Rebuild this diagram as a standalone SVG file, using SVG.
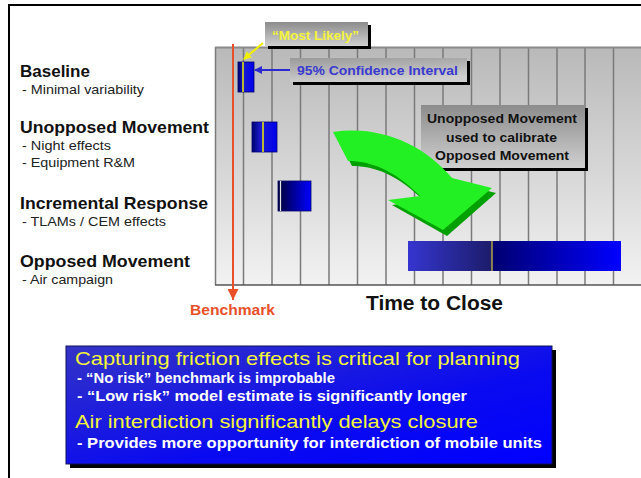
<svg xmlns="http://www.w3.org/2000/svg" width="641" height="478" viewBox="0 0 641 478">
  <defs>
    <linearGradient id="chartBg" x1="0" y1="0" x2="0" y2="1">
      <stop offset="0" stop-color="#b9b9b9"/>
      <stop offset="1" stop-color="#f2f2f2"/>
    </linearGradient>
    <linearGradient id="calloutBg" x1="0" y1="0" x2="0" y2="1">
      <stop offset="0" stop-color="#8c8c8c"/>
      <stop offset="1" stop-color="#d0d0d0"/>
    </linearGradient>
    <linearGradient id="noteBg" x1="0" y1="0" x2="0.3" y2="1">
      <stop offset="0" stop-color="#9a9a9a"/>
      <stop offset="1" stop-color="#cfcfcf"/>
    </linearGradient>
    <linearGradient id="boxBlue" x1="0" y1="0" x2="1" y2="1">
      <stop offset="0" stop-color="#3434c6"/>
      <stop offset="0.6" stop-color="#0a0af0"/>
      <stop offset="1" stop-color="#0000ff"/>
    </linearGradient>
    <linearGradient id="barSmall" x1="0" y1="0" x2="1" y2="0">
      <stop offset="0" stop-color="#000070"/>
      <stop offset="0.35" stop-color="#1a1ad0"/>
      <stop offset="1" stop-color="#0000ee"/>
    </linearGradient>
    <linearGradient id="barInc" x1="0" y1="0" x2="1" y2="0">
      <stop offset="0" stop-color="#00003a"/>
      <stop offset="1" stop-color="#0000ff"/>
    </linearGradient>
    <linearGradient id="barOppL" x1="0" y1="0" x2="1" y2="0">
      <stop offset="0" stop-color="#3535d0"/>
      <stop offset="1" stop-color="#1c1c6a"/>
    </linearGradient>
    <linearGradient id="barOppR" x1="0" y1="0" x2="1" y2="0">
      <stop offset="0" stop-color="#000070"/>
      <stop offset="1" stop-color="#0000ff"/>
    </linearGradient>
    <marker id="headBlue" markerWidth="8" markerHeight="8" refX="7" refY="4" orient="auto" markerUnits="userSpaceOnUse">
      <path d="M0,0 L8,4 L0,8 Z" fill="#2a2ad0"/>
    </marker>
    <marker id="headYellow" markerWidth="8" markerHeight="8" refX="7" refY="4" orient="auto" markerUnits="userSpaceOnUse">
      <path d="M0,0 L8,4 L0,8 Z" fill="#f0f000"/>
    </marker>
    <marker id="headRed" markerWidth="12" markerHeight="11" refX="11" refY="5.5" orient="auto" markerUnits="userSpaceOnUse">
      <path d="M0,0 L11,5.5 L0,11 Z" fill="#e8502a"/>
    </marker>
  </defs>
  <style>
    text { font-family: "Liberation Sans", Arial, sans-serif; }
    .head { font-size: 17px; font-weight: bold; fill: #111; }
    .sub { font-size: 13px; fill: #222; }
    .grid { stroke: #7a7a7a; stroke-width: 1.5; }
    .shadow { fill: #000; }
    .note { font-size: 13.5px; font-weight: bold; fill: #111; }
    .yl { fill: #f4f43a; font-size: 18.5px; }
    .wt { fill: #fff; font-size: 14.5px; font-weight: bold; }
  </style>

  <!-- page frame -->
  <path d="M9,478 V5 H641" fill="none" stroke="#000" stroke-width="2"/>

  <!-- chart area -->
  <g id="chart">
    <rect x="215" y="47" width="426" height="238" fill="url(#chartBg)"/>
    <g class="grid">
      <line x1="215.5" y1="47" x2="215.5" y2="285"/>
      <line x1="243.5" y1="47" x2="243.5" y2="285"/>
      <line x1="272" y1="47" x2="272" y2="285"/>
      <line x1="300.5" y1="47" x2="300.5" y2="285"/>
      <line x1="329" y1="47" x2="329" y2="285"/>
      <line x1="357.5" y1="47" x2="357.5" y2="285"/>
      <line x1="386" y1="47" x2="386" y2="285"/>
      <line x1="414.5" y1="47" x2="414.5" y2="285"/>
      <line x1="443" y1="47" x2="443" y2="285"/>
      <line x1="471.5" y1="47" x2="471.5" y2="285"/>
      <line x1="500" y1="47" x2="500" y2="285"/>
      <line x1="528.5" y1="47" x2="528.5" y2="285"/>
      <line x1="557" y1="47" x2="557" y2="285"/>
      <line x1="585" y1="47" x2="585" y2="285"/>
      <line x1="613.5" y1="47" x2="613.5" y2="285"/>
    </g>
    <line x1="215" y1="47.5" x2="641" y2="47.5" stroke="#8a8a8a" stroke-width="2"/>
    <line x1="215" y1="285" x2="641" y2="285" stroke="#555" stroke-width="1.5"/>
    <text x="366" y="310" font-size="20" font-weight="bold" fill="#111" textLength="137" lengthAdjust="spacingAndGlyphs">Time to Close</text>
  </g>

  <!-- row labels -->
  <g id="label-baseline">
    <text class="head" x="20" y="77">Baseline</text>
    <text class="sub" x="22" y="94" textLength="122" lengthAdjust="spacingAndGlyphs">- Minimal variability</text>
  </g>
  <g id="label-unopposed">
    <text class="head" x="20" y="133" textLength="189" lengthAdjust="spacingAndGlyphs">Unopposed Movement</text>
    <text class="sub" x="22" y="150" textLength="89" lengthAdjust="spacingAndGlyphs">- Night effects</text>
    <text class="sub" x="22" y="167" textLength="113" lengthAdjust="spacingAndGlyphs">- Equipment R&amp;M</text>
  </g>
  <g id="label-incremental">
    <text class="head" x="20" y="209" textLength="188" lengthAdjust="spacingAndGlyphs">Incremental Response</text>
    <text class="sub" x="22" y="226" textLength="144" lengthAdjust="spacingAndGlyphs">- TLAMs / CEM effects</text>
  </g>
  <g id="label-opposed">
    <text class="head" x="20" y="267" textLength="170" lengthAdjust="spacingAndGlyphs">Opposed Movement</text>
    <text class="sub" x="22" y="284" textLength="91" lengthAdjust="spacingAndGlyphs">- Air campaign</text>
  </g>

  <!-- bars -->
  <g id="bar-baseline">
    <rect x="238" y="62" width="16" height="30" fill="url(#barSmall)" stroke="#00006a" stroke-width="0.8"/>
    <line x1="243" y1="62" x2="243" y2="92" stroke="#f0f000" stroke-width="1.5"/>
  </g>
  <g id="bar-unopposed">
    <rect x="252" y="122" width="25" height="30" fill="url(#barSmall)" stroke="#00006a" stroke-width="0.8"/>
    <line x1="263" y1="122" x2="263" y2="152" stroke="#f0f000" stroke-width="1.5"/>
  </g>
  <g id="bar-incremental">
    <rect x="278" y="181" width="33" height="30" fill="url(#barInc)" stroke="#00006a" stroke-width="0.8"/>
    <line x1="280.5" y1="181" x2="280.5" y2="211" stroke="#e8e8e8" stroke-width="1.2"/>
  </g>
  <g id="bar-opposed">
    <rect x="408" y="241" width="84" height="30" fill="url(#barOppL)"/>
    <rect x="492" y="241" width="129" height="30" fill="url(#barOppR)"/>
    <line x1="492" y1="241" x2="492" y2="271" stroke="#d8c840" stroke-width="1.2"/>
  </g>

  <!-- callout: most likely -->
  <g id="callout-most-likely">
    <rect x="268" y="25" width="103" height="24" class="shadow"/>
    <rect x="265" y="22" width="103" height="24" fill="url(#calloutBg)"/>
    <text x="272" y="40" font-size="13.5" font-weight="bold" fill="#f4f43a" textLength="87" lengthAdjust="spacingAndGlyphs">“Most Likely”</text>
  </g>

  <!-- callout: confidence interval -->
  <g id="callout-confidence">
    <rect x="293" y="61" width="177" height="24" class="shadow"/>
    <rect x="290" y="58" width="177" height="24" fill="url(#noteBg)"/>
    <text x="297" y="75" font-size="13.5" font-weight="bold" fill="#3a3ad0" textLength="161" lengthAdjust="spacingAndGlyphs">95% Confidence Interval</text>
  </g>

  <!-- note: calibration -->
  <g id="note-calibrate">
    <rect x="424" y="108" width="164" height="63" class="shadow"/>
    <rect x="421" y="105" width="164" height="63" fill="url(#calloutBg)"/>
    <text class="note" x="427" y="123" textLength="150" lengthAdjust="spacingAndGlyphs">Unopposed Movement</text>
    <text class="note" x="446" y="141.5" textLength="111" lengthAdjust="spacingAndGlyphs">used to calibrate</text>
    <text class="note" x="435" y="160" textLength="134" lengthAdjust="spacingAndGlyphs">Opposed Movement</text>
  </g>

  <!-- green curved arrow -->
  <g id="calibrate-arrow">
    <path d="M337,137 C385,130 428,150 456,183 L496,193 L447,236 L392,205 L424,201 C398,175 375,166 352,166 Z" fill="#00a000"/>
    <path d="M333,132 C381,125 424,145 452,178 L492,188 L443,230 L388,200 L420,196 C394,170 371,161 348,161 Z" fill="#22f022"/>
  </g>

  <!-- connectors -->
  <g id="connectors">
    <line x1="233" y1="44" x2="233" y2="300" stroke="#e8502a" stroke-width="2" marker-end="url(#headRed)"/>
    <line x1="263" y1="43" x2="244" y2="59" stroke="#f0f000" stroke-width="2" marker-end="url(#headYellow)"/>
    <line x1="290" y1="70" x2="255" y2="70" stroke="#2a2ad0" stroke-width="2" marker-end="url(#headBlue)"/>
  </g>
  <text x="190" y="315" font-size="14" font-weight="bold" fill="#e8502a" textLength="85" lengthAdjust="spacingAndGlyphs">Benchmark</text>

  <!-- summary box -->
  <g id="summary">
    <rect x="70" y="350" width="486" height="118" fill="#000"/>
    <rect x="66" y="346" width="486" height="118" fill="url(#boxBlue)" stroke="#10105a" stroke-width="1"/>
    <text class="yl" x="75" y="365" textLength="445" lengthAdjust="spacingAndGlyphs">Capturing friction effects is critical for planning</text>
    <text class="wt" x="77" y="383" textLength="258" lengthAdjust="spacingAndGlyphs">- “No risk” benchmark is improbable</text>
    <text class="wt" x="77" y="401" textLength="390" lengthAdjust="spacingAndGlyphs">- “Low risk” model estimate is significantly longer</text>
    <text class="yl" x="75" y="428" textLength="403" lengthAdjust="spacingAndGlyphs">Air interdiction significantly delays closure</text>
    <text class="wt" x="77" y="448" textLength="465" lengthAdjust="spacingAndGlyphs">- Provides more opportunity for interdiction of mobile units</text>
  </g>
</svg>
